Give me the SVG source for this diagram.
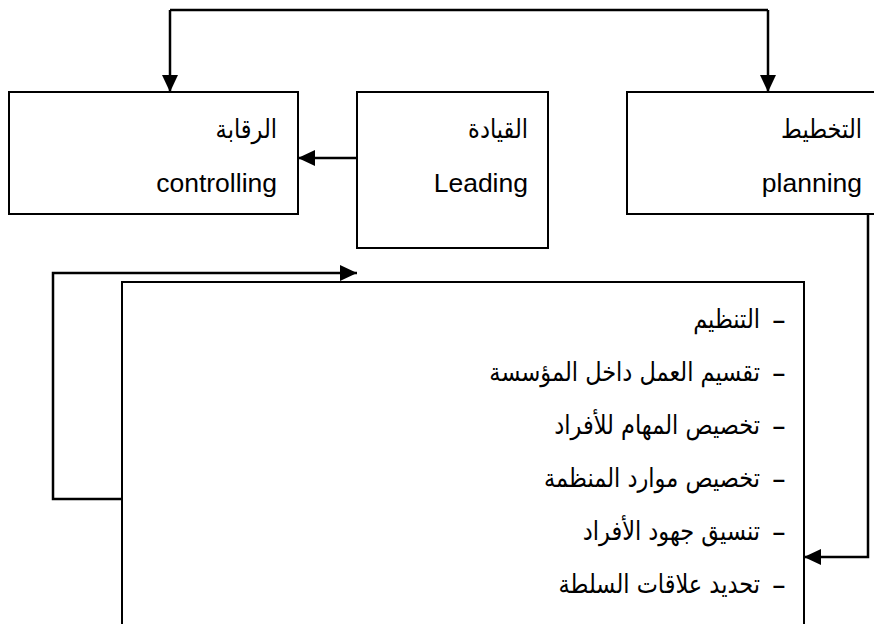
<svg xmlns="http://www.w3.org/2000/svg" width="874" height="624" viewBox="0 0 874 624">
  <style>
    .box { fill: #ffffff; stroke: #000000; stroke-width: 2; }
    .conn { fill: none; stroke: #000000; stroke-width: 2.5; }
    .lat { font-family: "Liberation Sans", Arial, sans-serif; font-size: 26.5px; fill: #000000; text-anchor: end; }
    .ar { font-family: "DejaVu Sans", "Noto Sans", sans-serif; font-size: 26px; fill: #000000; text-anchor: end; }
    .dash { font-family: "Liberation Sans", Arial, sans-serif; font-size: 22px; font-weight: bold; fill: #000000; text-anchor: end; }
  </style>
  <defs>
    <marker id="arrow" viewBox="0 0 17 16" refX="17" refY="8" markerWidth="17" markerHeight="16" markerUnits="userSpaceOnUse" orient="auto">
      <path d="M0,0 L17,8 L0,16 Z" fill="#000000"/>
    </marker>
  </defs>
  <rect width="874" height="624" fill="#ffffff"/>

  <g id="controlling">
    <rect class="box" x="9" y="92" width="289" height="122"/>
    <text class="ar" transform="translate(277,138) scale(0.865,1)">الرقابة</text>
    <text class="lat" x="277" y="192">controlling</text>
  </g>

  <g id="leading">
    <rect class="box" x="357" y="92" width="191" height="156"/>
    <text class="ar" transform="translate(528,138) scale(0.865,1)">القيادة</text>
    <text class="lat" x="528" y="192">Leading</text>
  </g>

  <g id="planning">
    <rect class="box" x="627" y="92" width="260" height="122"/>
    <text class="ar" transform="translate(862,138) scale(0.865,1)">التخطيط</text>
    <text class="lat" x="862" y="192">planning</text>
  </g>

  <g id="organizing">
    <rect class="box" x="122" y="282" width="682" height="360"/>
    <text class="dash" x="785" y="328">–</text>
    <text class="ar" transform="translate(760,328) scale(0.865,1)">التنظيم</text>
    <text class="dash" x="785" y="381">–</text>
    <text class="ar" transform="translate(760,381) scale(0.865,1)">تقسيم العمل داخل المؤسسة</text>
    <text class="dash" x="785" y="434">–</text>
    <text class="ar" transform="translate(760,434) scale(0.865,1)">تخصيص المهام للأفراد</text>
    <text class="dash" x="785" y="487">–</text>
    <text class="ar" transform="translate(760,487) scale(0.865,1)">تخصيص موارد المنظمة</text>
    <text class="dash" x="785" y="540">–</text>
    <text class="ar" transform="translate(760,540) scale(0.865,1)">تنسيق جهود الأفراد</text>
    <text class="dash" x="785" y="593">–</text>
    <text class="ar" transform="translate(760,593) scale(0.865,1)">تحديد علاقات السلطة</text>
  </g>

  <g id="connectors">
    <!-- top loop feeding controlling and planning -->
    <polyline class="conn" points="170,10 768,10"/>
    <polyline class="conn" points="170,10 170,92" marker-end="url(#arrow)"/>
    <polyline class="conn" points="768,10 768,92" marker-end="url(#arrow)"/>
    <!-- leading to controlling -->
    <polyline class="conn" points="357,158 298,158" marker-end="url(#arrow)"/>
    <!-- planning down to organizing -->
    <polyline class="conn" points="868,214 868,557 804,557" marker-end="url(#arrow)"/>
    <!-- organizing back up to leading -->
    <polyline class="conn" points="122,499 53,499 53,273 357,273" marker-end="url(#arrow)"/>
  </g>
</svg>
